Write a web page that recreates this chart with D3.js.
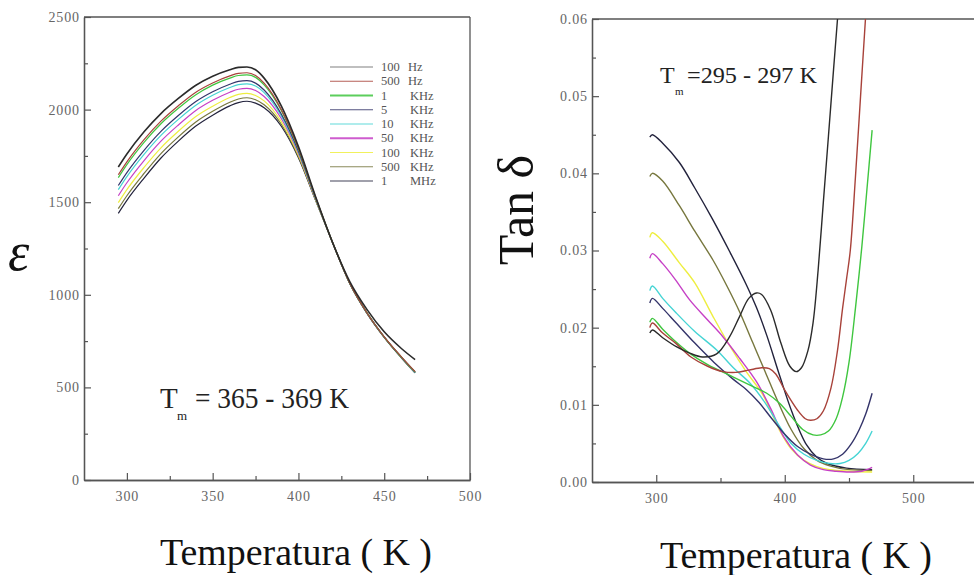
<!DOCTYPE html>
<html>
<head>
<meta charset="utf-8">
<script src="https://cdn.jsdelivr.net/npm/d3@7"></script>
<style>
  body { margin: 0; background: #fff; }
  svg { display: block; font-family: "Liberation Serif", "Times New Roman", serif; }
</style>
</head>
<body>
<div id="chart"></div>
<script>
// frequencies (same order in both panels)
var freqLabels = ['100 Hz', '500 Hz', '1 KHz', '5 KHz', '10 KHz', '50 KHz', '100 KHz', '500 KHz', '1 MHz'];
var freqColors = ['#2b2b2b', '#a8423a', '#3fc63f', '#34346a', '#45d4d4', '#c640c6', '#eeee40', '#77773e', '#22223c'];

// left panel: permittivity vs temperature
var tempEps = [295, 300, 310, 320, 330, 340, 350, 360, 365, 370, 375, 380, 390, 400, 410, 420, 430, 440, 450, 460, 468];
var eps100Hz = [1690, 1760, 1880, 1980, 2060, 2130, 2180, 2215, 2228, 2230, 2215, 2170, 2020, 1800, 1530, 1280, 1070, 920, 800, 710, 650];
var eps500Hz = [1648, 1718, 1838, 1939, 2021, 2093, 2144, 2182, 2196, 2199, 2184, 2143, 2001, 1790, 1527, 1280, 1061, 902, 773, 665, 585];
var eps1kHz = [1633, 1703, 1823, 1925, 2007, 2079, 2132, 2170, 2184, 2187, 2174, 2133, 1995, 1786, 1525, 1280, 1061, 902, 772, 664, 584];
var eps5kHz = [1590, 1660, 1780, 1884, 1968, 2042, 2096, 2137, 2152, 2156, 2143, 2106, 1976, 1776, 1522, 1280, 1060, 901, 772, 662, 582];
var eps10kHz = [1568, 1638, 1758, 1862, 1947, 2022, 2077, 2119, 2135, 2139, 2127, 2092, 1966, 1771, 1520, 1280, 1060, 901, 771, 662, 580];
var eps50kHz = [1535, 1605, 1725, 1831, 1917, 1994, 2050, 2094, 2110, 2115, 2103, 2071, 1952, 1763, 1518, 1280, 1061, 901, 772, 664, 583];
var eps100kHz = [1498, 1568, 1688, 1795, 1883, 1961, 2018, 2065, 2082, 2088, 2076, 2047, 1935, 1754, 1515, 1280, 1060, 901, 771, 662, 581];
var eps500kHz = [1465, 1535, 1655, 1764, 1853, 1932, 1991, 2040, 2057, 2064, 2053, 2026, 1921, 1746, 1512, 1280, 1060, 900, 771, 661, 579];
var eps1MHz = [1440, 1510, 1630, 1740, 1830, 1910, 1970, 2020, 2038, 2045, 2035, 2010, 1910, 1740, 1510, 1280, 1060, 900, 770, 660, 578];
var epsSeries = [eps100Hz, eps500Hz, eps1kHz, eps5kHz, eps10kHz, eps50kHz, eps100kHz, eps500kHz, eps1MHz];

// right panel: tan delta, [temperature, value]
var tan100Hz = [[295, .0193], [297, .0197], [305, .0187], [316, .0175], [326, .0167], [336, .0162], [347, .0166], [357, .0188], [365, .0215], [372, .0238], [378, .0245], [382, .0243], [389, .0223], [397, .0180], [404, .0150], [409, .0143], [413, .0148], [418, .0170], [422, .0206], [426, .0275], [430, .0362], [434, .0448], [438, .0535], [442, .0620], [445, .0690]];
var tan500Hz = [[295, .0200], [297, .0206], [305, .0193], [315, .0180], [327, .0162], [340, .0150], [352, .0143], [362, .0142], [372, .0145], [382, .0148], [388, .0147], [393, .0140], [400, .0119], [410, .0093], [416, .0082], [420, .0080], [425, .0082], [430, .0092], [436, .0122], [441, .0170], [445, .0225], [448, .0262], [451, .0300], [455, .0395], [459, .0500], [463, .0605], [466, .0680]];
var tan1kHz = [[295, .0207], [297, .0212], [305, .0198], [315, .0182], [325, .0168], [340, .0152], [360, .0136], [375, .0124], [386, .0115], [396, .0102], [405, .0085], [414, .0068], [422, .0061], [428, .0061], [434, .0066], [440, .0082], [445, .0110], [450, .0155], [455, .0225], [460, .0305], [464, .0380], [468, .0456]];
var tan5kHz = [[295, .0232], [297, .0238], [305, .0225], [315, .0207], [330, .0180], [345, .0155], [360, .0133], [370, .0120], [380, .0103], [390, .0082], [400, .0062], [410, .0046], [420, .0036], [430, .0030], [438, .0030], [445, .0036], [452, .0050], [458, .0068], [463, .0088], [468, .0115]];
var tan10kHz = [[295, .0248], [297, .0254], [305, .0238], [315, .0220], [330, .0195], [347, .0171], [360, .0148], [373, .0128], [385, .0102], [396, .0072], [405, .0050], [415, .0036], [425, .0028], [435, .0024], [443, .0024], [450, .0028], [457, .0037], [463, .0050], [468, .0066]];
var tan50kHz = [[295, .0290], [297, .0296], [305, .0283], [315, .0262], [326, .0236], [340, .0210], [352, .0188], [365, .0160], [378, .0130], [390, .0092], [399, .0059], [410, .0035], [420, .0022], [430, .0016], [440, .0014], [450, .0013], [460, .0014], [468, .0019]];
var tan100kHz = [[295, .0317], [297, .0323], [305, .0312], [318, .0284], [330, .0258], [344, .0215], [357, .0177], [370, .0143], [383, .0113], [396, .0067], [405, .0043], [415, .0028], [425, .0020], [435, .0016], [450, .0014], [468, .0013]];
var tan500kHz = [[295, .0396], [297, .0400], [305, .0390], [318, .0358], [330, .0325], [344, .0288], [355, .0254], [365, .0220], [375, .0181], [385, .0142], [395, .0103], [405, .0068], [415, .0043], [425, .0028], [435, .0021], [450, .0016], [468, .0015]];
var tan1MHz = [[295, .0447], [297, .0450], [305, .0439], [318, .0414], [330, .0381], [344, .0340], [357, .0299], [370, .0256], [378, .0226], [386, .0190], [396, .0138], [406, .0089], [417, .0048], [425, .0032], [433, .0024], [448, .0018], [468, .0016]];
var tanSeries = [tan100Hz, tan500Hz, tan1kHz, tan5kHz, tan10kHz, tan50kHz, tan100kHz, tan500kHz, tan1MHz];

var epsTicks = [0, 500, 1000, 1500, 2000, 2500];
var epsMinor = [250, 750, 1250, 1750, 2250];
var tempTicksL = [300, 350, 400, 450, 500];
var tempMinorL = [325, 375, 425, 475];
var tanTicks = [0, 0.01, 0.02, 0.03, 0.04, 0.05, 0.06];
var tanMinor = [0.005, 0.015, 0.025, 0.035, 0.045, 0.055];
var tempTicksR = [300, 400, 500];
var tempMinorR = [350, 450];

var W = 974, H = 575;
var axisColor = '#555';
var labelColor = '#666';
var serif = '"Liberation Serif", "Times New Roman", serif';

var svg = d3.select('#chart').append('svg').attr('width', W).attr('height', H);

function drawAxes(x, y, o) {
  var g = svg.append('g');
  var x0 = x.range()[0], x1 = x.range()[1];
  var y0 = y.range()[0], y1 = y.range()[1];

  g.append('g')
    .attr('transform', 'translate(0,' + y0 + ')')
    .call(d3.axisBottom(x).tickValues(o.xTicks).tickSizeInner(-7).tickSizeOuter(0).tickPadding(11).tickFormat(d3.format('d')));
  g.append('g')
    .attr('transform', 'translate(0,' + y0 + ')')
    .call(d3.axisBottom(x).tickValues(o.xMinor).tickSizeInner(-4).tickSizeOuter(0).tickFormat(''));
  g.append('g')
    .attr('transform', 'translate(' + x0 + ',0)')
    .call(d3.axisLeft(y).tickValues(o.yTicks).tickSizeInner(-7).tickSizeOuter(0).tickPadding(4).tickFormat(o.yFormat));
  g.append('g')
    .attr('transform', 'translate(' + x0 + ',0)')
    .call(d3.axisLeft(y).tickValues(o.yMinor).tickSizeInner(-4).tickSizeOuter(0).tickFormat(''));

  // frame
  g.append('line').attr('x1', x0).attr('x2', x1).attr('y1', y1).attr('y2', y1);
  if (o.rightBorder) {
    g.append('line').attr('x1', x1).attr('x2', x1).attr('y1', y1).attr('y2', y0);
  }
  g.selectAll('line').attr('stroke', axisColor).attr('stroke-width', 1.3);
  g.selectAll('.domain').attr('stroke', axisColor).attr('stroke-width', 1.3);
  g.selectAll('.tick line').attr('stroke', axisColor).attr('stroke-width', 1.2);
  g.selectAll('.tick text')
    .attr('fill', labelColor)
    .style('font-family', serif)
    .style('font-size', '14px')
    .attr('letter-spacing', 0.9);
  return g;
}

// ---------- left panel ----------
var xL = d3.scaleLinear().domain([275, 500]).range([84, 470]);
var yL = d3.scaleLinear().domain([0, 2500]).range([480, 17]);

drawAxes(xL, yL, {
  xTicks: tempTicksL, xMinor: tempMinorL,
  yTicks: epsTicks, yMinor: epsMinor,
  yFormat: d3.format('d'), rightBorder: true
});

var lineL = d3.line()
  .x(function (d, i) { return xL(tempEps[i]); })
  .y(function (d) { return yL(d); })
  .curve(d3.curveMonotoneX);

// draw from highest frequency up so the low-frequency curve sits on top
svg.append('g').selectAll('path')
  .data(epsSeries.map(function (s, i) { return { v: s, i: i }; }).reverse())
  .enter()
  .append('path')
  .attr('d', function (d) { return lineL(d.v); })
  .attr('fill', 'none')
  .attr('stroke', function (d) { return freqColors[d.i]; })
  .attr('stroke-width', function (d) { return d.i === 0 ? 1.6 : 1.2; });

// legend
var legend = svg.append('g').attr('transform', 'translate(330,67)');
var rows = legend.selectAll('g')
  .data(freqLabels)
  .enter()
  .append('g')
  .attr('transform', function (d, i) { return 'translate(0,' + (i * 14.25) + ')'; });
rows.append('line')
  .attr('x1', 0).attr('x2', 43)
  .attr('stroke', function (d, i) { return freqColors[i]; })
  .attr('stroke-width', function (d, i) { return (i === 2 || i === 5) ? 2.2 : 1.2; })
  .attr('stroke-opacity', function (d, i) { return i === 0 ? 0.6 : 0.85; });
rows.append('text')
  .attr('x', 51).attr('y', 4)
  .attr('font-size', 12.5).attr('fill', '#555')
  .text(function (d) { return d.split(' ')[0]; });
rows.append('text')
  .attr('x', function (d) { return d.split(' ')[1] === 'Hz' ? 78 : 80; })
  .attr('y', 4)
  .attr('font-size', 12.5).attr('fill', '#555')
  .text(function (d) { return d.split(' ')[1]; });

// Tm annotation
svg.append('text').attr('x', 160).attr('y', 408).attr('font-size', 29).attr('fill', '#222').text('T');
svg.append('text').attr('x', 177).attr('y', 420).attr('font-size', 13).attr('fill', '#222').text('m');
svg.append('text').attr('x', 195).attr('y', 408).attr('font-size', 29).attr('fill', '#222')
  .attr('textLength', 154).attr('lengthAdjust', 'spacingAndGlyphs').text('= 365 - 369 K');

svg.append('text').attr('x', 8).attr('y', 270).attr('font-size', 54)
  .attr('font-style', 'italic').attr('fill', '#111').text('ε');
svg.append('text').attr('x', 160).attr('y', 565).attr('font-size', 37).attr('fill', '#111')
  .attr('textLength', 272).attr('lengthAdjust', 'spacingAndGlyphs').text('Temperatura ( K )');

// ---------- right panel ----------
var xR = d3.scaleLinear().domain([250, 550]).range([592, 977.5]);
var yR = d3.scaleLinear().domain([0, 0.06]).range([482, 19]);

drawAxes(xR, yR, {
  xTicks: tempTicksR, xMinor: tempMinorR,
  yTicks: tanTicks, yMinor: tanMinor,
  yFormat: d3.format('.2f'), rightBorder: false
});

svg.append('clipPath').attr('id', 'clipR')
  .append('rect').attr('x', 592).attr('y', 19).attr('width', 390).attr('height', 463);

var lineR = d3.line()
  .x(function (d) { return xR(d[0]); })
  .y(function (d) { return yR(d[1]); })
  .curve(d3.curveCatmullRom.alpha(0.5));

svg.append('g').attr('clip-path', 'url(#clipR)')
  .selectAll('path')
  .data(tanSeries.map(function (s, i) { return { v: s, i: i }; }).reverse())
  .enter()
  .append('path')
  .attr('d', function (d) { return lineR(d.v); })
  .attr('fill', 'none')
  .attr('stroke', function (d) { return freqColors[d.i]; })
  .attr('stroke-width', 1.4);

svg.append('text').attr('x', 660).attr('y', 83).attr('font-size', 24).attr('fill', '#222').text('T');
svg.append('text').attr('x', 675).attr('y', 95).attr('font-size', 11).attr('fill', '#222').text('m');
svg.append('text').attr('x', 687).attr('y', 83).attr('font-size', 24).attr('fill', '#222')
  .attr('textLength', 130).attr('lengthAdjust', 'spacingAndGlyphs').text('=295 - 297 K');

svg.append('text')
  .attr('transform', 'translate(533,210) rotate(-90)')
  .attr('text-anchor', 'middle')
  .attr('font-size', 50).attr('fill', '#111')
  .text('Tan δ');
svg.append('text').attr('x', 660).attr('y', 568).attr('font-size', 37).attr('fill', '#111')
  .attr('textLength', 272).attr('lengthAdjust', 'spacingAndGlyphs').text('Temperatura ( K )');
</script>
</body>
</html>
